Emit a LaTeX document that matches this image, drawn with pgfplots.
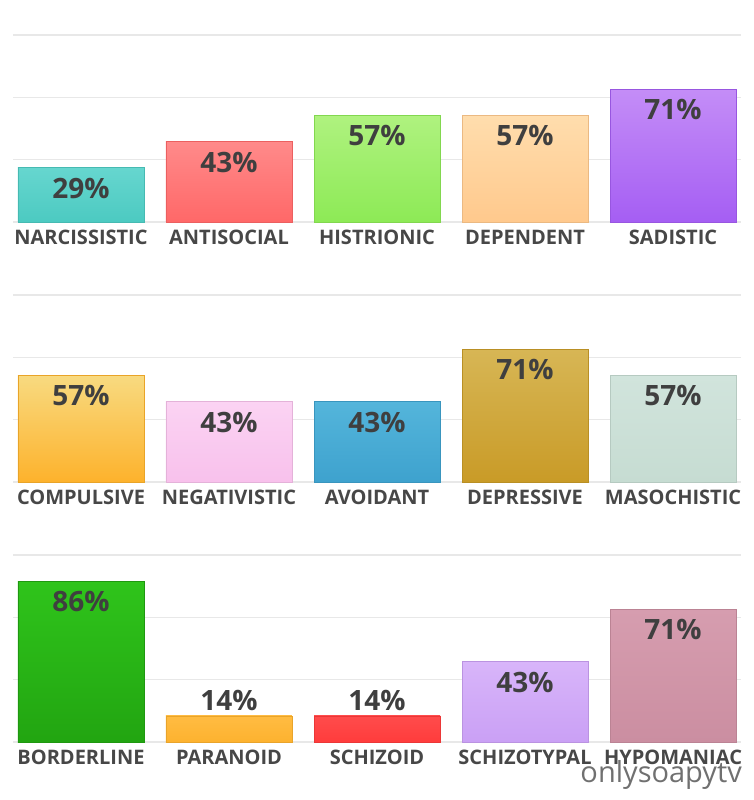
\documentclass[border=0pt]{standalone}
\usepackage{pgfplots}
\pgfplotsset{compat=1.18}
\usepackage{fontspec}
\setmainfont{Open Sans}

\definecolor{lbl}{HTML}{474747}
\definecolor{val}{HTML}{3F3F3F}
\definecolor{wm}{HTML}{707070}
\definecolor{narcT}{HTML}{66D6CF}\definecolor{narcB}{HTML}{4CCAC1}
\definecolor{antiT}{HTML}{FF8A8A}\definecolor{antiB}{HTML}{FF6868}
\definecolor{histT}{HTML}{AFF27F}\definecolor{histB}{HTML}{8DEA56}
\definecolor{depT}{HTML}{FFDDAD}\definecolor{depB}{HTML}{FFC98D}
\definecolor{sadT}{HTML}{C48DF7}\definecolor{sadB}{HTML}{A55EF3}
\definecolor{compT}{HTML}{F8DA80}\definecolor{compB}{HTML}{FDB22C}
\definecolor{negT}{HTML}{FBD3F3}\definecolor{negB}{HTML}{F8C1EC}
\definecolor{avoT}{HTML}{54B5DB}\definecolor{avoB}{HTML}{3EA2CE}
\definecolor{deprT}{HTML}{D7B655}\definecolor{deprB}{HTML}{C99B27}
\definecolor{masoT}{HTML}{D1E4DC}\definecolor{masoB}{HTML}{C6DCD2}
\definecolor{bordT}{HTML}{2FC41B}\definecolor{bordB}{HTML}{22A511}
\definecolor{paraT}{HTML}{FFBC42}\definecolor{paraB}{HTML}{FDB22F}
\definecolor{szdT}{HTML}{FF4C4C}\definecolor{szdB}{HTML}{FF3C3C}
\definecolor{sztT}{HTML}{D8B5FA}\definecolor{sztB}{HTML}{CAA0F5}
\definecolor{hypT}{HTML}{D69DAF}\definecolor{hypB}{HTML}{CB8EA1}

\pgfplotsset{
  panel/.style={
    scale only axis, width=728.2pt, height=187pt,
    xmin=-0.46, xmax=4.46, ymin=0, ymax=100,
    ybar, bar width=126pt, bar shift=0pt,
    xtick={0,1,2,3,4},
    ytick={0,33.333,66.667,100}, yticklabels={},
    ymajorgrids, grid style={line width=1.6pt, color=black!9},
    axis line style={draw=none}, major tick length=0pt,
    xticklabel style={font=\fontsize{20}{20}\selectfont\bfseries, text=lbl, inner sep=0pt, anchor=north, yshift=-8pt},
    clip=false,
    nodes near coords={\pgfmathprintnumber[assume math mode=true]{\pgfplotspointmeta}\%},
    every node near coord/.append style={font=\fontsize{28}{28}\selectfont\bfseries, text=val, inner sep=0pt, anchor=north, yshift=-10pt},
  },
  above/.style={every node near coord/.append style={anchor=south, yshift=15pt}},
  bb/.style n args={2}{top color=#1, bottom color=#2, draw=#2!92!black, line width=0.6pt},
}

\begin{document}
\begin{tikzpicture}
\useasboundingbox (0,0) rectangle (754pt,800pt);

\begin{axis}[panel, at={(12.9pt,578pt)}, anchor=south west,
  xticklabels={NARCISSISTIC, ANTISOCIAL, HISTRIONIC, DEPENDENT, SADISTIC}]
\addplot[bb={narcT}{narcB}] coordinates {(0,29)};
\addplot[bb={antiT}{antiB}] coordinates {(1,43)};
\addplot[bb={histT}{histB}] coordinates {(2,57)};
\addplot[bb={depT}{depB}] coordinates {(3,57)};
\addplot[bb={sadT}{sadB}] coordinates {(4,71)};
\end{axis}

\begin{axis}[panel, at={(12.9pt,318pt)}, anchor=south west,
  xticklabels={COMPULSIVE, NEGATIVISTIC, AVOIDANT, DEPRESSIVE, MASOCHISTIC}]
\addplot[bb={compT}{compB}] coordinates {(0,57)};
\addplot[bb={negT}{negB}] coordinates {(1,43)};
\addplot[bb={avoT}{avoB}] coordinates {(2,43)};
\addplot[bb={deprT}{deprB}] coordinates {(3,71)};
\addplot[bb={masoT}{masoB}] coordinates {(4,57)};
\end{axis}

\begin{axis}[panel, at={(12.9pt,58pt)}, anchor=south west,
  xticklabels={BORDERLINE, PARANOID, SCHIZOID, SCHIZOTYPAL, HYPOMANIAC}]
\addplot[bb={bordT}{bordB}] coordinates {(0,86)};
\addplot[bb={paraT}{paraB}, above] coordinates {(1,14)};
\addplot[bb={szdT}{szdB}, above] coordinates {(2,14)};
\addplot[bb={sztT}{sztB}] coordinates {(3,43)};
\addplot[bb={hypT}{hypB}] coordinates {(4,71)};
\end{axis}

\node[anchor=base east, font=\fontsize{29}{29}\selectfont, text=wm, inner sep=0pt] at (742pt,17pt) {onlysoapytv};
\end{tikzpicture}
\end{document}
